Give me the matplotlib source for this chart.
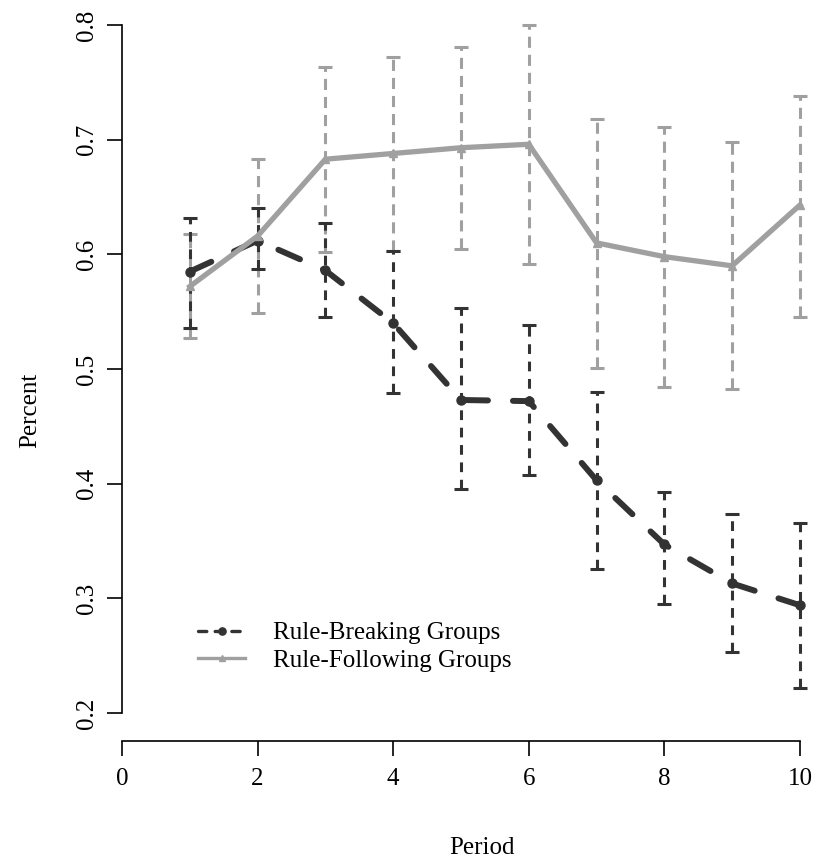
import matplotlib
matplotlib.use("Agg")
import matplotlib.pyplot as plt

plt.rcParams['font.family'] = ['Liberation Serif', 'DejaVu Serif']
plt.rcParams['lines.scale_dashes'] = False

# data
period = [1, 2, 3, 4, 5, 6, 7, 8, 9, 10]

breaking = [0.585, 0.612, 0.586, 0.540, 0.473, 0.472, 0.403, 0.347, 0.313, 0.294]
breaking_hi = [0.632, 0.640, 0.627, 0.603, 0.553, 0.538, 0.480, 0.393, 0.374, 0.366]
breaking_lo = [0.536, 0.587, 0.545, 0.479, 0.395, 0.408, 0.326, 0.295, 0.253, 0.222]

following = [0.572, 0.616, 0.683, 0.688, 0.693, 0.696, 0.610, 0.598, 0.590, 0.643]
following_hi = [0.618, 0.683, 0.763, 0.772, 0.781, 0.800, 0.718, 0.711, 0.698, 0.738]
following_lo = [0.527, 0.549, 0.602, 0.603, 0.605, 0.592, 0.501, 0.484, 0.483, 0.545]

dark = '#333333'
light = '#a0a0a0'

fig = plt.figure(figsize=(8.14, 8.58), dpi=100)
ax = fig.add_axes([0.1166, 0.1369, 0.8994, 0.866])
ax.set_xlim(-0.4, 10.4)
ax.set_ylim(0.176, 0.824)


def err_bars(y, lo, hi, color, dashes):
    eb = ax.errorbar(period, y, yerr=[[a - b for a, b in zip(y, lo)], [b - a for a, b in zip(y, hi)]],
                     fmt='none', ecolor=color, elinewidth=2.2, capsize=4.8, capthick=2.2)
    for lc in eb[2]:
        lc.set_linestyle((0, dashes))
    return eb


err_bars(following, following_lo, following_hi, light, (8, 5))
err_bars(breaking, breaking_lo, breaking_hi, dark, (7, 5.5))

l1, = ax.plot(period, breaking, color=dark, lw=4.3, marker='o', ms=6.5,
              dash_capstyle='round', label='Rule-Breaking Groups')
l1.set_dashes((17, 18))
l2, = ax.plot(period, following, color=light, lw=3.8, marker='^', ms=6,
              label='Rule-Following Groups')

for s in ['top', 'right']:
    ax.spines[s].set_visible(False)
ax.spines['left'].set_position(('data', 0))
ax.spines['left'].set_bounds(0.2, 0.8)
ax.spines['bottom'].set_bounds(0, 10)
ax.spines['left'].set_linewidth(1.2)
ax.spines['bottom'].set_linewidth(1.2)

ax.set_xticks([0, 2, 4, 6, 8, 10])
ax.set_yticks([0.2, 0.3, 0.4, 0.5, 0.6, 0.7, 0.8])
ax.tick_params(length=11, width=1.2, labelsize=18, pad=6)
ax.tick_params(axis='x', pad=9)
for t in ax.get_yticklabels():
    t.set_rotation(90)
    t.set_va('center')

fig.text(0.037, 0.522, 'Percent', rotation=90, ha='center', va='center', fontsize=18)
fig.text(0.592, 0.012, 'Period', ha='center', va='center', fontsize=18)

leg = ax.legend(handles=[l1, l2], loc='upper left', bbox_to_anchor=(0.11, 0.19),
                frameon=False, fontsize=18, handlelength=1.9, handletextpad=1.1,
                labelspacing=0.2, markerscale=0.8)
for ln in leg.get_lines():
    ln.set_linewidth(2.4)
leg.get_lines()[0].set_dashes((6, 6))

fig.savefig('out.png', dpi=100)
